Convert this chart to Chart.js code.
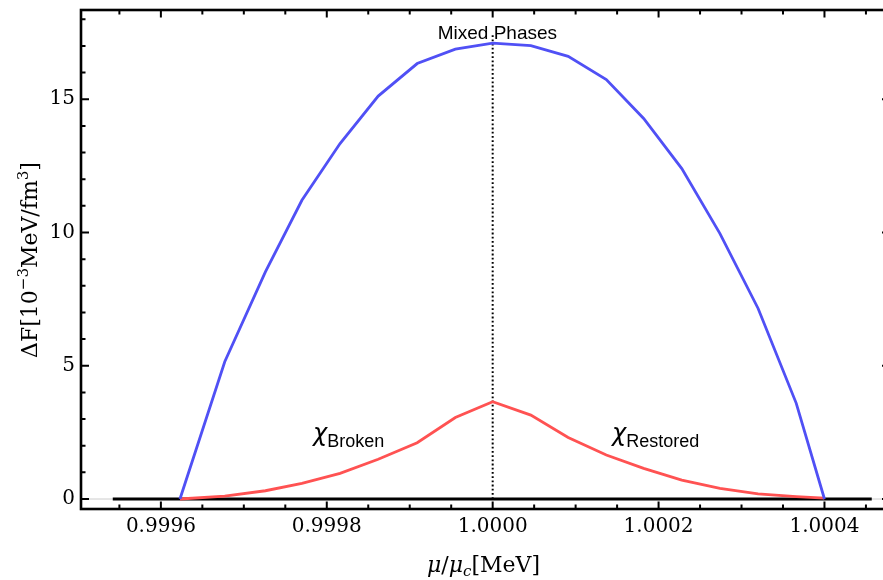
<!DOCTYPE html>
<html>
<head>
<meta charset="utf-8">
<script src="https://cdn.jsdelivr.net/npm/chart.js@4.4.1/dist/chart.umd.min.js"></script>
<style>
    html, body { margin: 0; padding: 0; background: #fff; overflow: hidden; }
    #wrap { width: 883px; height: 580px; overflow: hidden; }
</style>
</head>
<body>
<!-- canvas is a bit wider than the window: the right frame edge sits just off the picture -->
<div id="wrap"><canvas id="freeEnergyChart" width="890" height="580"></canvas></div>
<script>
// axis range and ticks
const xMin = 0.9995037;
const xMax = 1.000479;
const yMin = -0.375;
const yMax = 18.35;
const xTicks = [0.9996, 0.9998, 1.0000, 1.0002, 1.0004];
const yTicks = [0, 5, 10, 15];

// mixed phases curve (blue)
const mixedX = [0.999623, 0.999677, 0.999726, 0.999770, 0.999816, 0.999862, 0.999909, 0.999955, 1.000000,
                1.000046, 1.000091, 1.000137, 1.000182, 1.000228, 1.000274, 1.000320, 1.000366, 1.000400];
const mixedY = [0, 5.15, 8.52, 11.21, 13.34, 15.12, 16.34, 16.88, 17.11,
                17.01, 16.61, 15.74, 14.28, 12.40, 9.96, 7.15, 3.59, 0];

// chi broken / restored curve (red)
const chiX = mixedX;
const chiY = [0, 0.11, 0.31, 0.59, 0.96, 1.49, 2.11, 3.06, 3.65,
              3.15, 2.31, 1.65, 1.15, 0.71, 0.40, 0.19, 0.09, 0.03];

// zero line and the mu = mu_c marker
const zeroX = [0.999542, 1.000457];
const zeroY = [0, 0];
const critX = [1.0, 1.0];
const critY = [0, 17.45];

const pts = (xs, ys) => xs.map((x, i) => ({ x: x, y: ys[i] }));

// draw a row of text pieces, centred (or left aligned) on (cx, base)
function drawRuns(ctx, runs, cx, base, align) {
    let total = 0;
    runs.forEach(r => { ctx.font = r.font; total += ctx.measureText(r.t).width; });
    let x = align === 'left' ? cx : cx - total / 2;
    runs.forEach(r => {
        ctx.font = r.font;
        ctx.fillText(r.t, x, base + (r.dy || 0));
        x += ctx.measureText(r.t).width;
    });
}

const frameTicks = {
    id: 'frameTicks',
    beforeDatasetsDraw(chart) {
        const { ctx, chartArea: a, scales: { y } } = chart;
        const y0 = y.getPixelForValue(0);
        ctx.save();
        ctx.strokeStyle = '#cccccc';
        ctx.lineWidth = 1;
        ctx.beginPath();
        ctx.moveTo(a.left, y0);
        ctx.lineTo(a.right, y0);
        ctx.stroke();
        ctx.restore();
    },
    afterDraw(chart) {
        const { ctx, chartArea: a, scales: { x, y } } = chart;
        ctx.save();
        ctx.strokeStyle = '#000';
        ctx.lineWidth = 2.6;
        ctx.strokeRect(a.left, a.top, a.right - a.left, a.bottom - a.top);

        // inward ticks on all four sides
        ctx.lineWidth = 2;
        ctx.beginPath();
        for (let k = 19991; k <= 20009; k++) {
            const v = k * 0.00005;
            const px = x.getPixelForValue(v);
            if (px < a.left || px > a.right) continue;
            const len = (k % 4 === 0) ? 7.5 : 4.5;
            ctx.moveTo(px, a.bottom); ctx.lineTo(px, a.bottom - len);
            ctx.moveTo(px, a.top); ctx.lineTo(px, a.top + len);
        }
        for (let v = 0; v <= 18; v++) {
            const py = y.getPixelForValue(v);
            const len = (v % 5 === 0) ? 8 : 4.5;
            ctx.moveTo(a.left, py); ctx.lineTo(a.left + len, py);
            ctx.moveTo(a.right, py); ctx.lineTo(a.right - len, py);
        }
        ctx.stroke();

        // annotations
        ctx.fillStyle = '#000';
        ctx.textBaseline = 'alphabetic';
        drawRuns(ctx, [{ t: 'Mixed Phases', font: '19px "Liberation Sans"' }],
            x.getPixelForValue(1.0) - 55, 38.5, 'left');
        drawRuns(ctx, [
            { t: 'χ', font: 'italic 24px "DejaVu Sans"' },
            { t: 'Broken', font: '18px "Liberation Sans"', dy: 6 }
        ], x.getPixelForValue(0.9997834), y.getPixelForValue(2.17), 'left');
        drawRuns(ctx, [
            { t: 'χ', font: 'italic 24px "DejaVu Sans"' },
            { t: 'Restored', font: '18px "Liberation Sans"', dy: 6 }
        ], x.getPixelForValue(1.0001438), y.getPixelForValue(2.17), 'left');

        // x axis title
        drawRuns(ctx, [
            { t: 'μ', font: 'italic 22px "DejaVu Serif"' },
            { t: '/', font: '22px "DejaVu Serif"' },
            { t: 'μ', font: 'italic 22px "DejaVu Serif"' },
            { t: 'c', font: 'italic 15px "DejaVu Serif"', dy: 4 },
            { t: '[MeV]', font: '22px "DejaVu Serif"' }
        ], 483.5, 572);

        // y axis title
        ctx.translate(36.5, 260);
        ctx.rotate(-Math.PI / 2);
        drawRuns(ctx, [
            { t: 'ΔF[10', font: '22px "DejaVu Serif"' },
            { t: '−3', font: '15px "DejaVu Serif"', dy: -9 },
            { t: 'MeV/fm', font: '22px "DejaVu Serif"' },
            { t: '3', font: '15px "DejaVu Serif"', dy: -9 },
            { t: ']', font: '22px "DejaVu Serif"' }
        ], 0, 0);
        ctx.restore();
    }
};

const tickFont = { family: '"DejaVu Serif", serif', size: 20 };

new Chart(document.getElementById('freeEnergyChart'), {
    type: 'scatter',
    data: {
        datasets: [
            { label: 'mixed', data: pts(mixedX, mixedY), showLine: true, borderColor: '#5050f5', borderWidth: 2.8, pointRadius: 0, tension: 0 },
            { label: 'chi', data: pts(chiX, chiY), showLine: true, borderColor: '#ff5252', borderWidth: 2.8, pointRadius: 0, tension: 0 },
            { label: 'zero', data: pts(zeroX, zeroY), showLine: true, borderColor: '#000', borderWidth: 3, pointRadius: 0 },
            { label: 'muc', data: pts(critX, critY), showLine: true, borderColor: '#000', borderWidth: 2, borderDash: [1.8, 2.4], pointRadius: 0 }
        ]
    },
    options: {
        responsive: false,
        animation: false,
        devicePixelRatio: 1,
        layout: { padding: { left: 0, top: 10, right: 0, bottom: 0 } },
        plugins: { legend: { display: false }, tooltip: { enabled: false } },
        scales: {
            x: {
                type: 'linear', min: xMin, max: xMax,
                grid: { display: false, drawTicks: false },
                border: { display: false },
                ticks: { font: tickFont, color: '#000', padding: 6, maxRotation: 0, autoSkip: false,
                         callback: v => v.toFixed(4) },
                afterBuildTicks: s => { s.ticks = xTicks.map(v => ({ value: v })); },
                afterFit: s => { s.height = 71; s.paddingLeft = 0; s.paddingRight = 0; }
            },
            y: {
                type: 'linear', min: yMin, max: yMax,
                grid: { display: false, drawTicks: false },
                border: { display: false },
                ticks: { font: tickFont, color: '#000', padding: 6, autoSkip: false,
                         callback: v => String(v) },
                afterBuildTicks: s => { s.ticks = yTicks.map(v => ({ value: v })); },
                afterFit: s => { s.width = 81; s.paddingTop = 0; s.paddingBottom = 0; }
            }
        }
    },
    plugins: [frameTicks]
});
</script>
</body>
</html>
